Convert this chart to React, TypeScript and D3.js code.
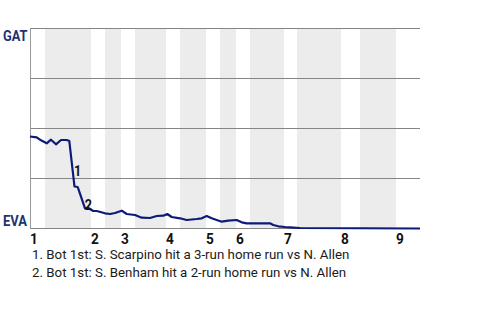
import React from "react";
import * as d3 from "d3";

// Half-inning start positions (in plate-appearance units); even = top (white), odd = bottom (shaded)
const halfInningStarts = [0, 3, 12.2, 15, 18.2, 21, 27.2, 30, 35.2, 38, 41.2, 44, 50.8, 53.4, 62.2, 66, 73.2];
const gameEnd = 78;
const inningLabels = ["1", "2", "3", "4", "5", "6", "7", "8", "9"];

// Win probability for the home team (EVA): 0 = GAT wins, 1 = EVA wins
const playIndex = [0, 1.34, 2.2, 3.34, 4.2, 5.2, 6.2, 7.34, 7.86, 8.9, 9.54, 9.86, 11, 11.66, 12.66, 13.34, 15, 16, 17, 18.34, 19.34, 21, 22.34, 24, 25.34, 26.66, 27.46, 28.34, 30, 31.34, 33.34, 34.34, 35.34, 36.34, 38.34, 39.66, 41.34, 42.34, 43.34, 48, 48.66, 49.66, 51, 52, 54, 78];
const homeWinProb = [0.54, 0.544, 0.559, 0.574, 0.556, 0.579, 0.5575, 0.5575, 0.5625, 0.79, 0.7925, 0.816, 0.899, 0.8975, 0.9125, 0.9125, 0.924, 0.9275, 0.9225, 0.911, 0.9275, 0.9325, 0.946, 0.9475, 0.9375, 0.936, 0.9275, 0.9425, 0.949, 0.9575, 0.9525, 0.949, 0.9375, 0.949, 0.966, 0.961, 0.9575, 0.969, 0.974, 0.974, 0.9825, 0.989, 0.9925, 0.994, 0.9975, 1.0];

const teamTop = "GAT";
const teamBottom = "EVA";

const eventIds = ["1", "2"];
const eventPlayIndex = [8.9, 11];
const eventWinProb = [0.79, 0.899];
const eventTexts = [
  "1. Bot 1st: S. Scarpino hit a 3-run home run vs N. Allen",
  "2. Bot 1st: S. Benham hit a 2-run home run vs N. Allen",
];

const gridValues = [0, 0.25, 0.5, 0.75, 1];

export default function App() {
  const W = 480, H = 320;
  const x = d3.scaleLinear().domain([0, gameEnd]).range([30, 420]);
  const y = d3.scaleLinear().domain([0, 1]).range([28.5, 228.5]);

  const pts: [number, number][] = playIndex.map((p, i) => [p, homeWinProb[i]]);
  const line = d3.line<[number, number]>().x(d => x(d[0])).y(d => y(d[1]));

  const bands = halfInningStarts.map((s, i) => ({
    start: s,
    end: i + 1 < halfInningStarts.length ? halfInningStarts[i + 1] : gameEnd,
    bottom: i % 2 === 1,
  }));
  const inningStarts = halfInningStarts.filter((_, i) => i % 2 === 0);

  const labelOffsets = [[3, -10.8], [3.3, 1.7]];
  const navy = "#1d3470";

  return (
    <svg width={W} height={H} style={{ position: "absolute", left: 0, top: 0, fontFamily: "Roboto, sans-serif" }}>
      <rect x={0} y={0} width={W} height={H} fill="#fff" />
      {bands.filter(b => b.bottom).map((b, i) => (
        <rect key={i} x={x(b.start)} y={y(0)} width={x(b.end) - x(b.start)} height={y(1) - y(0)} fill="#ececec" />
      ))}
      {gridValues.map((g, i) => (
        <line key={i} x1={x(0)} x2={x(gameEnd)} y1={y(g)} y2={y(g)} stroke="#858585" strokeWidth={1} />
      ))}
      <line x1={x(0) + 0.5} x2={x(0) + 0.5} y1={y(0)} y2={y(1) + 0.5} stroke="#9a9a9a" strokeWidth={1} />
      <path d={line(pts) || ""} fill="none" stroke="#0e1a78" strokeWidth={2.2} strokeLinejoin="round" />

      <text x={3} y={40.7} fontSize={15.5} fontWeight="bold" fill={navy} textLength={24.5} lengthAdjust="spacingAndGlyphs">{teamTop}</text>
      <text x={3} y={226} fontSize={15.5} fontWeight="bold" fill={navy} textLength={24} lengthAdjust="spacingAndGlyphs">{teamBottom}</text>

      {inningLabels.map((lab, i) => (
        <text key={lab} transform={`translate(${x(inningStarts[i]) + 3.8},243.5) scale(0.88,1)`} textAnchor="middle" fontSize={15.5} fontWeight="bold" fill="#111">{lab}</text>
      ))}

      {eventIds.map((id, i) => (
        <text key={id} transform={`translate(${x(eventPlayIndex[i]) + labelOffsets[i][0]},${y(eventWinProb[i]) + labelOffsets[i][1]}) scale(0.9,1)`} textAnchor="middle" fontSize={14} fontWeight="bold" fill="#111">{id}</text>
      ))}

      {eventTexts.map((t, i) => (
        <text key={i} x={32} y={258.5 + i * 18.5} fontSize={13.3} fill="#1a1a1a">{t}</text>
      ))}
    </svg>
  );
}
